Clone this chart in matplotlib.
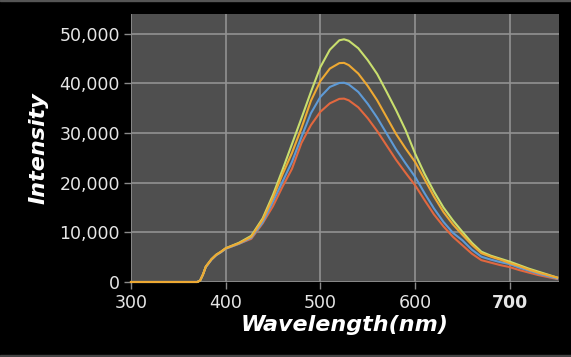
import matplotlib
matplotlib.use("Agg")
from matplotlib import pyplot as plt
from matplotlib.patches import Rectangle
from matplotlib.ticker import FuncFormatter

# Wavelength sample points (nm)
wavelength = [300, 360, 370, 373, 376, 379, 385, 390, 395, 400, 414, 427, 439,
              450, 460, 470, 480, 490, 500, 510, 520, 525, 530, 540, 550, 560,
              570, 580, 590, 600, 610, 620, 630, 640, 650, 660, 670, 680, 690,
              700, 710, 720, 730, 740, 750]

# Emission intensities
red = [0, 0, 0, 300, 1500, 3000, 4500, 5400, 6000, 6700, 7700, 8700, 11800,
       15300, 19200, 22800, 28000, 31600, 34300, 36000, 36900, 36950, 36600,
       35200, 33000, 30400, 27500, 24600, 22000, 19500, 16500, 13600, 11200,
       9100, 7400, 5700, 4400, 3900, 3400, 3000, 2400, 1900, 1400, 1000, 600]
blue = [0, 0, 0, 300, 1500, 3000, 4500, 5400, 6000, 6700, 7700, 8900, 12000,
        16200, 20200, 24200, 29200, 34000, 37300, 39300, 40100, 40150, 39800,
        38300, 35900, 33100, 29900, 26700, 23900, 21200, 17900, 14800, 12100,
        9900, 8400, 6500, 5100, 4500, 4000, 3600, 2900, 2300, 1700, 1200, 700]
yellow = [0, 0, 0, 300, 1500, 3100, 4600, 5500, 6100, 6800, 7900, 9300, 12800,
          17600, 22600, 27800, 33000, 38300, 43300, 46800, 48700, 48900, 48600,
          47100, 44700, 41900, 38300, 34600, 30600, 25900, 21800, 18200, 15000,
          12400, 10100, 7900, 6100, 5300, 4700, 4100, 3400, 2700, 2100, 1500, 900]
gold = [0, 0, 0, 300, 1500, 3100, 4600, 5500, 6100, 6800, 7800, 9100, 12500,
        17000, 21700, 26000, 31000, 36500, 40500, 43000, 44100, 44150, 43700,
        42000, 39500, 36600, 33200, 29800, 26900, 24200, 20700, 17200, 14100,
        11600, 9500, 7500, 5800, 5100, 4500, 3800, 3200, 2500, 1900, 1400, 900]

series = [(red, "#e2683f"), (blue, "#5e9ad6"), (yellow, "#c9df6e"), (gold, "#eea933")]

x_ticks = [300, 400, 500, 600, 700]
y_ticks = [0, 10000, 20000, 30000, 40000, 50000]

fig = plt.figure(figsize=(5.71, 3.57), dpi=100, facecolor="black")
ax = fig.add_axes([0.2294, 0.2101, 0.7496, 0.7507])
ax.set_facecolor("#4f4f4f")

for values, color in series:
    ax.plot(wavelength, values, color=color, linewidth=1.5, zorder=3,
            clip_on=False)

ax.set_xlim(300, 752)
ax.set_ylim(0, 54000)
ax.set_xticks(x_ticks)
ax.set_yticks(y_ticks)
ax.yaxis.set_major_formatter(FuncFormatter(lambda v, p: f"{int(v):,}"))
ax.grid(True, color="#929292", linewidth=1.2, zorder=1)
ax.set_axisbelow(True)
for s in ax.spines.values():
    s.set_visible(False)

ax.tick_params(colors="#8a8a8a", labelcolor="#e6e6e6", labelsize=12.5,
               length=5, width=1, pad=3)
ax.tick_params(axis="x", pad=4)
for lbl in ax.get_xticklabels():
    if lbl.get_text() == "700":
        lbl.set_fontweight("bold")

ax.set_xlabel("Wavelength(nm)", color="white", fontsize=16, fontweight="bold",
              fontstyle="italic", labelpad=2)
ax.set_ylabel("Intensity", color="white", fontsize=16, fontweight="bold",
              fontstyle="italic", labelpad=8)

# thin frame strips at the top and bottom of the image
fig.add_artist(Rectangle((0, 0.997), 1, 0.003, transform=fig.transFigure,
                         color="#555555", zorder=0))
fig.add_artist(Rectangle((0, 0), 1, 0.006, transform=fig.transFigure,
                         color="#444444", zorder=0))

plt.savefig("out.png", dpi=100, facecolor="black")
